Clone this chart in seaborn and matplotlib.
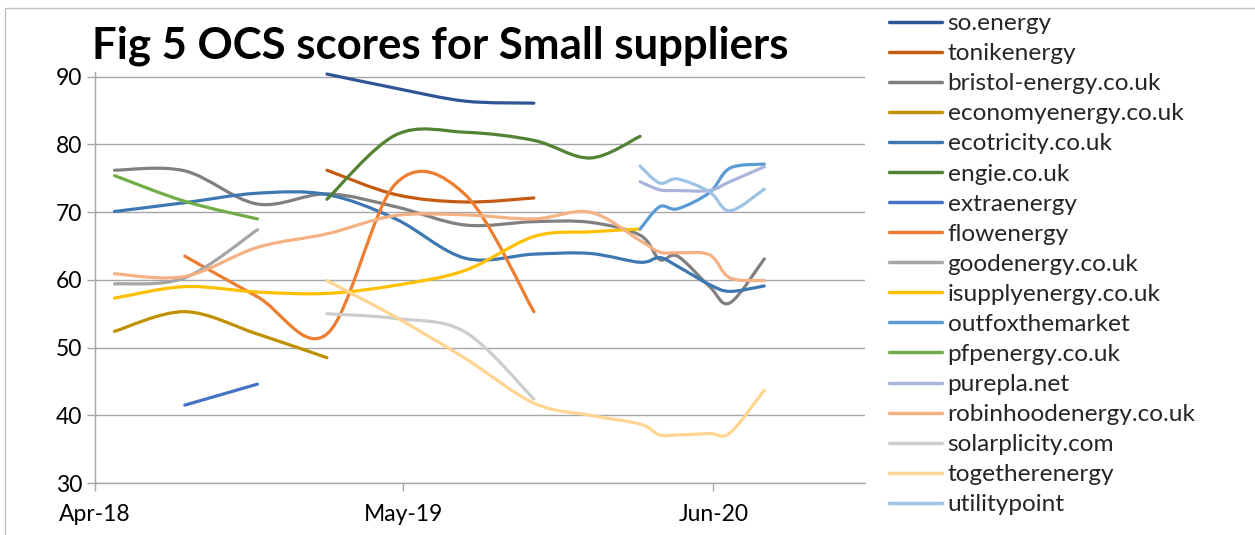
import matplotlib
matplotlib.use("Agg")
import matplotlib.pyplot as plt
import matplotlib.dates as mdates
import matplotlib.ticker as mticker
from matplotlib.path import Path
from matplotlib.patches import PathPatch, Rectangle
from matplotlib.lines import Line2D
import numpy as np
import pandas as pd
import seaborn as sns

nan = np.nan

# survey dates
dates = pd.to_datetime([
    "2018-04-26", "2018-07-25", "2018-10-26", "2019-01-23", "2019-04-21",
    "2019-07-19", "2019-10-15", "2019-12-26", "2020-02-28", "2020-03-24",
    "2020-04-16", "2020-05-27", "2020-06-22", "2020-08-05",
])

suppliers = [
    "so.energy", "tonikenergy", "bristol-energy.co.uk", "economyenergy.co.uk",
    "ecotricity.co.uk", "engie.co.uk", "extraenergy", "flowenergy",
    "goodenergy.co.uk", "isupplyenergy.co.uk", "outfoxthemarket",
    "pfpenergy.co.uk", "purepla.net", "robinhoodenergy.co.uk",
    "solarplicity.com", "togetherenergy", "utilitypoint",
]

so_energy = [nan, nan, nan, 90.4, 88.3, 86.4, 86.1, nan, nan, nan, nan, nan, nan, nan]
tonikenergy = [nan, nan, nan, 76.2, 72.6, 71.5, 72.1, nan, nan, nan, nan, nan, nan, nan]
bristol = [76.2, 76.1, 71.2, 72.7, 70.8, 68.1, 68.6, 68.5, 66.6, 63.0, 63.5, 59.0, 56.6, 63.1]
economy = [52.4, 55.3, 52.0, 48.5, nan, nan, nan, nan, nan, nan, nan, nan, nan, nan]
ecotricity = [70.1, 71.4, 72.8, 72.6, 69.0, 63.2, 63.8, 63.9, 62.6, 63.3, 62.0, 59.3, 58.3, 59.1]
engie = [nan, nan, nan, 71.9, 81.4, 81.8, 80.6, 78.0, 81.2, nan, nan, nan, nan, nan]
extraenergy = [nan, 41.5, 44.6, nan, nan, nan, nan, nan, nan, nan, nan, nan, nan, nan]
flowenergy = [nan, 63.5, 57.5, 52.0, 74.2, 72.6, 55.3, nan, nan, nan, nan, nan, nan, nan]
goodenergy = [59.4, 60.3, 67.4, nan, nan, nan, nan, nan, nan, nan, nan, nan, nan, nan]
isupply = [57.3, 59.0, 58.2, 58.0, 59.2, 61.4, 66.4, 67.1, 67.5, nan, nan, nan, nan, nan]
outfox = [nan, nan, nan, nan, nan, nan, nan, nan, 67.5, 70.8, 70.5, 72.9, 76.5, 77.1]
pfpenergy = [75.4, 71.6, 69.0, nan, nan, nan, nan, nan, nan, nan, nan, nan, nan, nan]
purepla = [nan, nan, nan, nan, nan, nan, nan, nan, 74.5, 73.3, 73.2, 73.2, 74.5, 76.7]
robinhood = [60.9, 60.5, 64.8, 66.8, 69.5, 69.6, 69.0, 70.0, 65.8, 64.1, 64.0, 63.7, 60.3, 59.9]
solarplicity = [nan, nan, nan, 55.0, 54.3, 52.3, 42.4, nan, nan, nan, nan, nan, nan, nan]
together = [nan, nan, nan, 59.9, 54.5, 48.4, 41.8, 40.0, 38.7, 37.1, 37.1, 37.3, 37.4, 43.7]
utilitypoint = [nan, nan, nan, nan, nan, nan, nan, nan, 76.8, 74.3, 74.9, 73.0, 70.2, 73.4]

scores = [so_energy, tonikenergy, bristol, economy, ecotricity, engie, extraenergy,
          flowenergy, goodenergy, isupply, outfox, pfpenergy, purepla, robinhood,
          solarplicity, together, utilitypoint]

colors = ["#2F5597", "#C55A11", "#808080", "#BF9000", "#3E78B2", "#548235",
          "#4472C4", "#ED7D31", "#A5A5A5", "#FFC000", "#5B9BD5", "#70AD47",
          "#A8B4DC", "#F4B183", "#CDCDCD", "#FFD591", "#9DC3E6"]

tick_dates = pd.to_datetime(["2018-04-01", "2019-05-01", "2020-06-01"])
x_end = pd.Timestamp("2020-12-12")

df = pd.DataFrame({"date": dates})
for name, vals in zip(suppliers, scores):
    df[name] = vals


def smooth_path(x, y):
    # Excel style smoothed line: cubic bezier through the points
    pts = np.column_stack([x, y])
    n = len(pts)
    verts = [pts[0]]
    codes = [Path.MOVETO]
    for i in range(n - 1):
        p_prev = pts[i - 1] if i > 0 else pts[i]
        p_next = pts[i + 2] if i + 2 < n else pts[i + 1]
        c1 = pts[i] + (pts[i + 1] - p_prev) / 6.0
        c2 = pts[i + 1] - (p_next - pts[i]) / 6.0
        verts += [c1, c2, pts[i + 1]]
        codes += [Path.CURVE4] * 3
    return Path(verts, codes)


sns.set_theme(style="white")
plt.rcParams["font.family"] = ["Lato", "DejaVu Sans"]

fig = plt.figure(figsize=(12.55, 5.35), dpi=100)
ax = fig.add_axes([95 / 1255, 1 - 483 / 535, 770 / 1255, 411 / 535])

# outer chart frame
fig.patches.append(Rectangle((5 / 1255, -0.1), 1.1, 1.1 - 8 / 535,
                             transform=fig.transFigure, fill=False,
                             edgecolor="#BFBFBF", lw=1.0))

for name, col in zip(suppliers, colors):
    sub = df[["date", name]].dropna()
    xn = mdates.date2num(sub["date"])
    patch = PathPatch(smooth_path(xn, sub[name].values), fill=False,
                      edgecolor=col, lw=2.3, capstyle="round", joinstyle="round")
    ax.add_patch(patch)

ax.set_xlim(mdates.date2num(tick_dates[0]), mdates.date2num(x_end))
ax.set_ylim(30, 90.7)
ax.xaxis.set_major_locator(mticker.FixedLocator(mdates.date2num(tick_dates)))
ax.xaxis.set_major_formatter(mdates.DateFormatter("%b-%y"))
ax.yaxis.set_major_locator(mticker.FixedLocator([30, 40, 50, 60, 70, 80, 90]))

ax.grid(axis="y", color="#A6A6A6", lw=1.0)
ax.set_axisbelow(True)
sns.despine(ax=ax, top=True, right=True)
for s in ["left", "bottom"]:
    ax.spines[s].set_color("#A6A6A6")
    ax.spines[s].set_linewidth(1.0)
ax.tick_params(axis="both", which="major", length=6, width=1.0, color="#A6A6A6",
               labelsize=16.5, labelcolor="black", direction="out")
ax.tick_params(axis="x", pad=9, bottom=True)
ax.tick_params(axis="y", pad=3, left=True)
ax.set_xlabel("")
ax.set_ylabel("")

fig.text(440 / 1255, 1 - 58 / 535, "Fig 5 OCS scores for Small suppliers",
         ha="center", va="baseline", fontsize=31.5, fontweight="bold", color="black")

handles = [Line2D([0], [0], color=c, lw=2.5) for c in colors]
fig.legend(handles, suppliers, loc="upper left", bbox_to_anchor=(889 / 1255, 1 - 13 / 535),
           frameon=False, fontsize=17.6, labelspacing=0.367, handlelength=2.15,
           handletextpad=0.25, borderaxespad=0, borderpad=0)

fig.savefig("out.png", dpi=100)
